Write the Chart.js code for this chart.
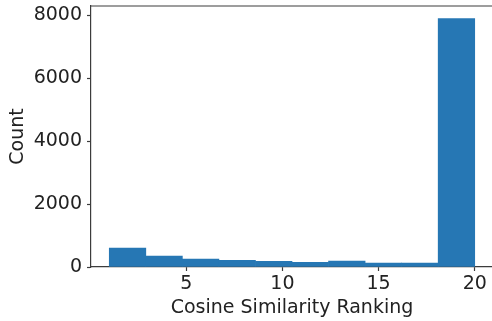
<!DOCTYPE html>
<html>
<head>
<meta charset="utf-8">
<script src="https://cdn.jsdelivr.net/npm/chart.js@4"></script>
<style>
  html, body { margin: 0; padding: 0; background: #fff; overflow: hidden; }
  #wrap { width: 500px; height: 321px; position: relative; }
</style>
</head>
<body>
<div id="wrap"><canvas id="c"></canvas></div>
<script>
// Histogram of cosine-similarity rankings: 10 bins over [1, 20]
const binEdges = [1, 2.9, 4.8, 6.7, 8.6, 10.5, 12.4, 14.3, 16.2, 18.1, 20];
const binCounts = [600, 350, 250, 210, 180, 150, 185, 125, 125, 7900];
const xTickValues = [5, 10, 15, 20];
const yTickValues = [0, 2000, 4000, 6000, 8000];
const xTitle = 'Cosine Similarity Ranking';
const yTitle = 'Count';

const points = binCounts.map((v, i) => ({ x: (binEdges[i] + binEdges[i + 1]) / 2, y: v }));

const axisColor = '#3c3c3c';
const textColor = '#222';
const font = { family: 'DejaVu Sans', size: 19 };

// top spine of the axes frame
const topSpine = {
  id: 'topSpine',
  afterDraw(chart) {
    const { ctx, chartArea } = chart;
    ctx.save();
    ctx.strokeStyle = axisColor;
    ctx.lineWidth = 1.2;
    ctx.beginPath();
    ctx.moveTo(chartArea.left, chartArea.top);
    ctx.lineTo(chartArea.right, chartArea.top);
    ctx.stroke();
    ctx.restore();
  }
};

new Chart(document.getElementById('c'), {
  type: 'bar',
  data: {
    datasets: [{
      data: points,
      backgroundColor: '#2677b4',
      borderWidth: 0,
      barPercentage: 1,
      categoryPercentage: 1
    }]
  },
  options: {
    responsive: true,
    maintainAspectRatio: false,
    animation: false,
    layout: { padding: { left: 0, right: 7, top: 6, bottom: 0 } },
    plugins: { legend: { display: false }, tooltip: { enabled: false } },
    scales: {
      x: {
        type: 'linear',
        offset: false,
        min: 0.05,
        max: 20.95,
        afterBuildTicks: s => { s.ticks = xTickValues.map(v => ({ value: v })); },
        afterFit: s => { s.height = 54; s.paddingLeft = 0; s.paddingRight = 0; },
        ticks: { color: textColor, font, padding: 2, maxRotation: 0, callback: v => String(v) },
        grid: { display: true, offset: false, drawOnChartArea: false, tickLength: 4, color: axisColor, tickWidth: 1.2 },
        border: { display: true, color: axisColor, width: 1.2 },
        title: { display: true, text: xTitle, color: textColor, font, padding: { top: 2, bottom: 2 } }
      },
      y: {
        min: 0,
        max: 8300,
        afterBuildTicks: s => { s.ticks = yTickValues.map(v => ({ value: v })); },
        afterFit: s => { s.width = 91; s.paddingTop = 0; s.paddingBottom = 0; },
        ticks: { color: textColor, font, padding: 5, callback: v => String(v) },
        grid: { display: true, offset: false, drawOnChartArea: false, tickLength: 4, color: axisColor, tickWidth: 1.2 },
        border: { display: true, color: axisColor, width: 1.2 },
        title: { display: true, text: yTitle, color: textColor, font, padding: { top: 7, bottom: 0 } }
      }
    }
  },
  plugins: [topSpine]
});
</script>
</body>
</html>
